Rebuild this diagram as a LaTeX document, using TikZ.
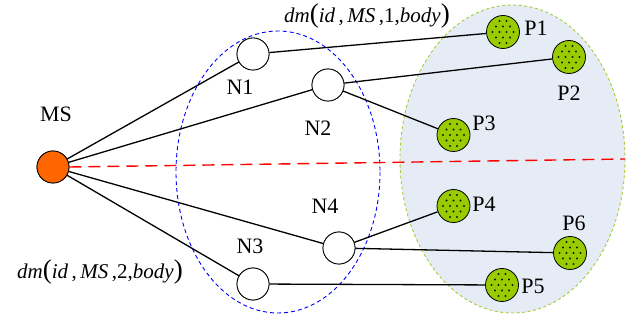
\documentclass[tikz,border=0pt]{standalone}
\usepackage{fontspec}
\setmainfont{Liberation Serif}
\definecolor{pgreen}{HTML}{99CC00}
\definecolor{egreen}{HTML}{A6CC33}
\definecolor{efill}{HTML}{E6ECF6}
\definecolor{msorange}{HTML}{FF6600}
\definecolor{dotc}{HTML}{1A1A00}
\tikzset{
  ncirc/.style={circle,draw=black,line width=0.8pt,fill=white,minimum size=32pt,inner sep=0pt},
  pcirc/.style={circle,draw=black,line width=0.8pt,fill=pgreen,minimum size=33pt,inner sep=0pt},
  mscirc/.style={circle,draw=black,line width=0.8pt,fill=msorange,minimum size=32pt,inner sep=0pt},
  lbl/.style={font=\fontsize{22}{26}\selectfont,inner sep=0pt},
  dmlbl/.style={font=\fontsize{21}{25}\selectfont,inner sep=0pt},
  conn/.style={line width=1.3pt,black},
}
\newcommand\bigparen[1]{{\fontsize{27}{30}\selectfont #1}}
\newcommand\pnode[3]{%
  \node[pcirc] (#1) at (#2,#3) {};
  \begin{scope}
    \clip (#2,#3) circle (13.5);
    \foreach \i in {-3,...,3}{
      \foreach \j in {0,...,6}{
        \pgfmathsetmacro\xx{#2+\i*7+mod(\j,2)*3.5}
        \pgfmathsetmacro\yy{#3+(\j-3)*5.5}
        \fill[dotc] (\xx,\yy) circle (1.05);
      }
    }
  \end{scope}
}
\begin{document}
\begin{tikzpicture}[x=1pt,y=-1pt]
\useasboundingbox (0,0) rectangle (629,320);
% ellipses
\draw[egreen,fill=efill,line width=0.9pt,dash pattern=on 3pt off 2.5pt] (512.5,159) ellipse [x radius=112.5, y radius=154];
\draw[blue,line width=0.9pt,dash pattern=on 4pt off 3pt] (278,172) ellipse [x radius=102, y radius=141];
% nodes
\node[mscirc] (MS) at (53,167) {};
\node[ncirc] (N1) at (253,54) {};
\node[ncirc] (N2) at (328,85) {};
\node[ncirc] (N3) at (253,284) {};
\node[ncirc] (N4) at (339,248) {};
\coordinate (rend) at (625,159);
% connectors
\draw[conn] (MS) -- (N1);
\draw[conn] (MS) -- (N2);
\draw[conn] (MS) -- (N4);
\draw[conn] (MS) -- (N3);
\draw[red,line width=1.4pt,dash pattern=on 12pt off 7pt] (MS.east) -- (rend);
\pnode{P1}{503}{32}
\pnode{P2}{569}{57}
\pnode{P3}{453.5}{135}
\pnode{P4}{453.5}{206}
\pnode{P6}{570}{253}
\pnode{P5}{502}{285}
\draw[conn] (N1) -- (P1);
\draw[conn] (N2) -- (P2);
\draw[conn] (N2) -- (P3);
\draw[conn] (N4) -- (P4);
\draw[conn] (N4) -- (P6);
\draw[conn] (N3) -- (P5);
% redraw node circles on top
\node[mscirc] at (MS) {};
\node[ncirc] at (N1) {};
\node[ncirc] at (N2) {};
\node[ncirc] at (N3) {};
\node[ncirc] at (N4) {};
% labels
\node[lbl] (lMS) at (56,114) {MS};
\node[lbl] (lN1) at (240,87) {N1};
\node[lbl] (lN2) at (318,128) {N2};
\node[lbl] (lN3) at (250,246) {N3};
\node[lbl] (lN4) at (325,206) {N4};
\node[lbl] (lP1) at (536,28) {P1};
\node[lbl] (lP2) at (569,93) {P2};
\node[lbl] (lP3) at (484,123) {P3};
\node[lbl] (lP4) at (484,204) {P4};
\node[lbl] (lP6) at (574,223) {P6};
\node[lbl] (lP5) at (533,286) {P5};
\node[dmlbl] (dm1) at (367,16) {\textit{dm}\bigparen{(}\textit{id}\,,\,\textit{MS}\,,1,\textit{body}\bigparen{)}};
\node[dmlbl] (dm2) at (100,272) {\textit{dm}\bigparen{(}\textit{id}\,,\,\textit{MS}\,,2,\textit{body}\bigparen{)}};
\end{tikzpicture}
\end{document}
